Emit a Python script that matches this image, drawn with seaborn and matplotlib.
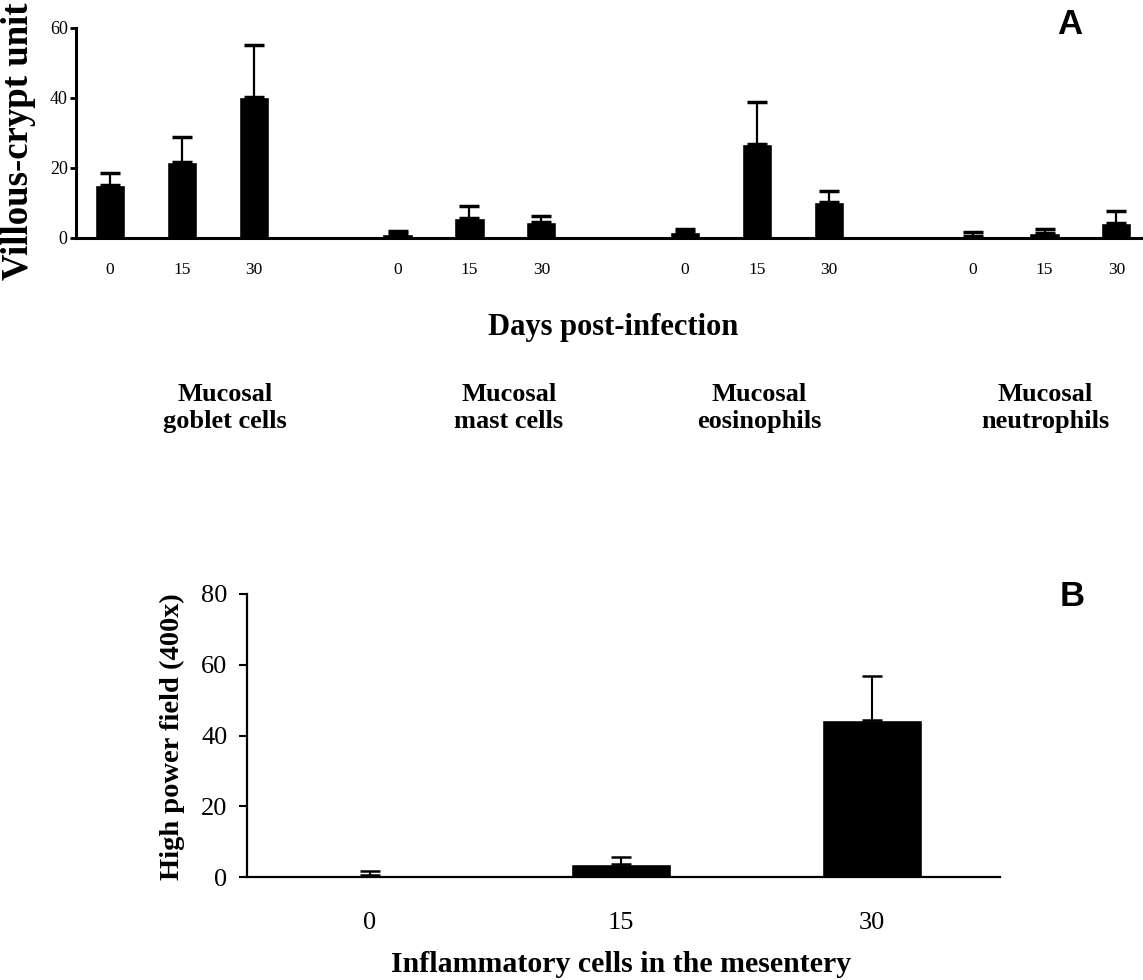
import numpy as np
import pandas as pd
import seaborn as sns
import matplotlib.pyplot as plt

# Days post-infection, same for every group
days = ['0', '15', '30']
cell_types = ['Mucosal\ngoblet cells', 'Mucosal\nmast cells',
              'Mucosal\neosinophils', 'Mucosal\nneutrophils']

# Panel A: cells per villous-crypt unit (mean, upper error)
goblet = [15.1, 21.7, 40.3]
goblet_err = [3.5, 7.2, 14.7]
mast = [1.0, 5.6, 4.7]
mast_err = [1.0, 3.5, 1.5]
eosino = [1.8, 26.9, 10.2]
eosino_err = [0.9, 12.0, 3.3]
neutro = [0.6, 1.5, 4.2]
neutro_err = [1.0, 1.0, 3.5]

# Panel B: inflammatory cells in the mesentery per high power field
mesentery = [0.5, 3.7, 44.4]
mesentery_err = [1.2, 1.9, 12.4]

sns.set_style("ticks")
plt.rcParams['font.family'] = ['Liberation Serif', 'DejaVu Serif']
for key in ['text.color', 'axes.labelcolor', 'xtick.color', 'ytick.color', 'axes.edgecolor']:
    plt.rcParams[key] = 'black'

W, H = 1143, 980
fig = plt.figure(figsize=(W / 100, H / 100), dpi=100)

#  Build a long table for panel A, one slot gap between the groups
rows = []
for g, (vals, errs) in enumerate([(goblet, goblet_err), (mast, mast_err),
                                  (eosino, eosino_err), (neutro, neutro_err)]):
    for i, d in enumerate(days):
        rows.append({'group': cell_types[g], 'day': d, 'pos': 4 * g + i,
                     'value': vals[i], 'err': errs[i]})
dfA = pd.DataFrame(rows)

axA = fig.add_axes([76 / W, (H - 238) / H, (W - 76) / W, 210 / H])
sns.barplot(data=dfA, x='pos', y='value', native_scale=True, width=0.42,
            color='black', saturation=1, errorbar=None, ax=axA)
axA.errorbar(dfA['pos'], dfA['value'], yerr=[np.zeros(len(dfA)), dfA['err']],
             fmt='none', ecolor='black', elinewidth=1.6, capsize=7, capthick=2.5)
axA.set_xlim(-0.473, 14.37)
axA.set_ylim(0, 60)
axA.set_yticks([0, 20, 40, 60])
axA.set_xticks(dfA['pos'])
axA.set_xticklabels(dfA['day'])
axA.tick_params(axis='x', length=0, pad=17, labelsize=12.5)
axA.tick_params(axis='y', length=4, width=2, pad=2, labelsize=13)
axA.set_xlabel('')
axA.set_ylabel('')
for s in ['top', 'right']:
    axA.spines[s].set_visible(False)
for s in ['left', 'bottom']:
    axA.spines[s].set_linewidth(2.2)

fig.text(19 / W, 1 - 141 / H, 'Villous-crypt unit', rotation=90, fontsize=26.5,
         fontweight='bold', ha='center', va='center')
fig.text(613 / W, 1 - 328 / H, 'Days post-infection', fontsize=22,
         fontweight='bold', ha='center', va='center')
for cx, lab in zip([225, 509, 759, 1045], cell_types):
    fig.text(cx / W, 1 - 408 / H, lab, fontsize=19, fontweight='bold',
             ha='center', va='center', multialignment='center', linespacing=1.2)
fig.text(1070 / W, 1 - 25 / H, 'A', fontsize=25, fontweight='bold',
         family='Liberation Sans', ha='center', va='center')

#  Panel B
dfB = pd.DataFrame({'day': days, 'value': mesentery, 'err': mesentery_err})
axB = fig.add_axes([247 / W, (H - 877) / H, 753 / W, 283 / H])
sns.barplot(data=dfB, x='day', y='value', order=days, width=0.4,
            color='black', saturation=1, errorbar=None, ax=axB)
axB.errorbar(np.arange(len(dfB)), dfB['value'], yerr=[np.zeros(len(dfB)), dfB['err']],
             fmt='none', ecolor='black', elinewidth=1.5, capsize=7, capthick=1.8)
axB.set_xlim(-0.49, 2.51)
axB.set_ylim(0, 80)
axB.set_yticks([0, 20, 40, 60, 80])
axB.tick_params(axis='x', length=0, pad=25, labelsize=19)
axB.tick_params(axis='y', length=6, width=1.5, pad=8, labelsize=19)
axB.set_xlabel('')
axB.set_ylabel('')
for s in ['top', 'right']:
    axB.spines[s].set_visible(False)
for s in ['left', 'bottom']:
    axB.spines[s].set_linewidth(1.6)

fig.text(172 / W, 1 - 737 / H, 'High power field (400x)', rotation=90, fontsize=20.5,
         fontweight='bold', ha='center', va='center')
fig.text(621 / W, 1 - 964 / H, 'Inflammatory cells in the mesentery', fontsize=21.5,
         fontweight='bold', ha='center', va='center')
fig.text(1072 / W, 1 - 596 / H, 'B', fontsize=25, fontweight='bold',
         family='Liberation Sans', ha='center', va='center')

fig.savefig('out.png', dpi=100)
